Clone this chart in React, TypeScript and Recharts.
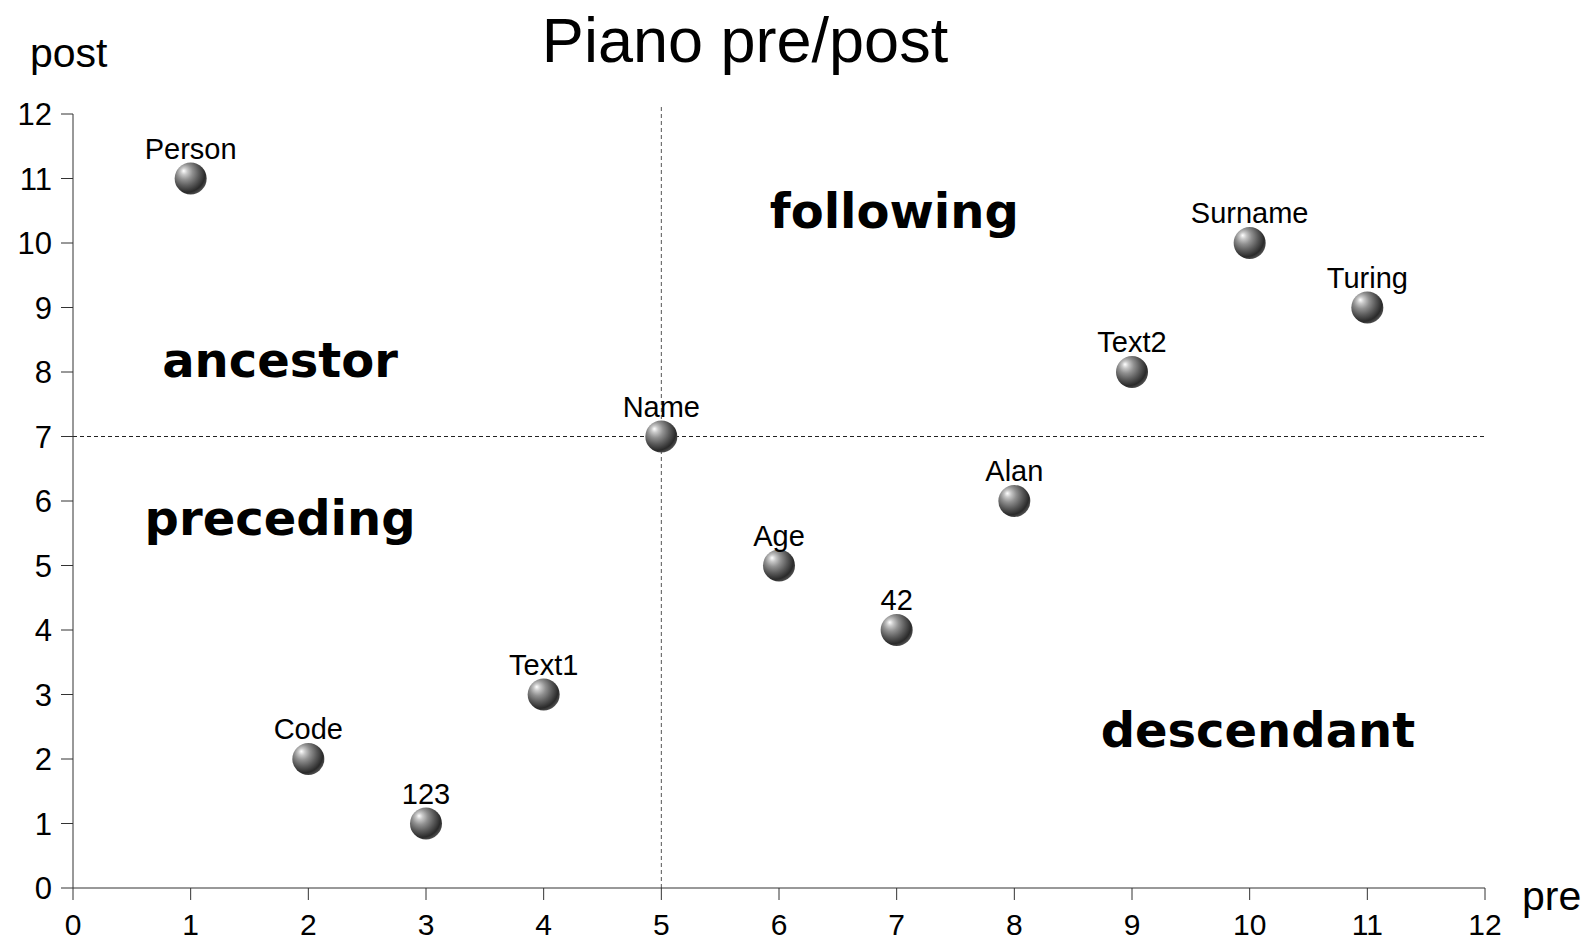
import { ScatterChart, Scatter, XAxis, YAxis, ReferenceLine, ReferenceDot } from 'recharts';

const nodeNames = ['Person', 'Code', '123', 'Text1', 'Name', 'Age', '42', 'Alan', 'Text2', 'Surname', 'Turing'];
const preValues = [1, 2, 3, 4, 5, 6, 7, 8, 9, 10, 11];
const postValues = [11, 2, 1, 3, 7, 5, 4, 6, 8, 10, 9];
const axisTicks = [0, 1, 2, 3, 4, 5, 6, 7, 8, 9, 10, 11, 12];

const regionNames = ['ancestor', 'preceding', 'following', 'descendant'];
const regionPre = [1.76, 1.76, 6.98, 10.07];
const regionPost = [7.92, 5.47, 10.24, 2.18];

const data = nodeNames.map((name, i) => ({ name, pre: preValues[i], post: postValues[i] }));
const regions = regionNames.map((name, i) => ({ name, pre: regionPre[i], post: regionPost[i] }));

const sans = '"Liberation Sans", Arial, Helvetica, sans-serif';
const W = 1594;
const H = 943;

function Ball(props: any) {
    const { cx, cy, payload } = props;
    return (
        <g>
            <circle cx={cx} cy={cy} r={16} fill="url(#ballGrad)" />
            <text x={cx} y={cy - 20} textAnchor="middle" fontSize={29} fontFamily={sans} fill="#000">
                {payload.name}
            </text>
        </g>
    );
}

export default function App() {
    return (
        <div style={{ position: 'fixed', left: 0, top: 0, width: W, height: H, background: '#fff' }}>
            <ScatterChart width={W} height={H} margin={{ top: 114, right: 109, bottom: 15, left: 0 }}>
                <defs>
                    <radialGradient id="ballGrad" cx="38%" cy="36%" r="70%" fx="28%" fy="26%">
                        <stop offset="0%" stopColor="#ffffff" />
                        <stop offset="15%" stopColor="#c8c8c8" />
                        <stop offset="35%" stopColor="#909090" />
                        <stop offset="60%" stopColor="#5a5a5a" />
                        <stop offset="84%" stopColor="#2a2a2a" />
                        <stop offset="100%" stopColor="#5a5a5a" />
                    </radialGradient>
                </defs>
                <XAxis
                    type="number"
                    dataKey="pre"
                    domain={[0, 12]}
                    ticks={axisTicks}
                    interval={0}
                    height={40}
                    tickSize={12}
                    tickMargin={14}
                    stroke="#333"
                    tick={{ fill: '#000', fontSize: 30, fontFamily: sans }}
                />
                <YAxis
                    type="number"
                    dataKey="post"
                    domain={[0, 12]}
                    ticks={axisTicks}
                    interval={0}
                    width={73}
                    tickSize={12}
                    tickMargin={9}
                    stroke="#333"
                    tick={{ fill: '#000', fontSize: 31, fontFamily: sans }}
                />
                <ReferenceLine
                    segment={[{ x: 5, y: 0 }, { x: 5, y: 12.13 }]}
                    ifOverflow="visible"
                    stroke="#555"
                    strokeDasharray="4 3"
                />
                <ReferenceLine y={7} stroke="#222" strokeDasharray="4 3" />
                {regions.map((r) => (
                    <ReferenceDot
                        key={r.name}
                        x={r.pre}
                        y={r.post}
                        r={0}
                        ifOverflow="visible"
                        shape={(p: any) => (
                            <text
                                x={p.cx}
                                y={p.cy}
                                textAnchor="middle"
                                fontSize={48}
                                fontWeight="bold"
                                fontFamily='"DejaVu Sans", Verdana, sans-serif'
                                fill="#000"
                            >
                                {r.name}
                            </text>
                        )}
                    />
                ))}
                <Scatter data={data} shape={<Ball />} isAnimationActive={false} />
            </ScatterChart>
            <svg width={W} height={H} style={{ position: 'absolute', left: 0, top: 0, pointerEvents: 'none' }}>
                <text x={745} y={62} textAnchor="middle" fontSize={63} fontFamily={sans} fill="#000">
                    Piano pre/post
                </text>
                <text x={30} y={67} fontSize={41} fontFamily={sans} fill="#000">
                    post
                </text>
                <text x={1522} y={910} fontSize={41} fontFamily={sans} fill="#000">
                    pre
                </text>
            </svg>
        </div>
    );
}
